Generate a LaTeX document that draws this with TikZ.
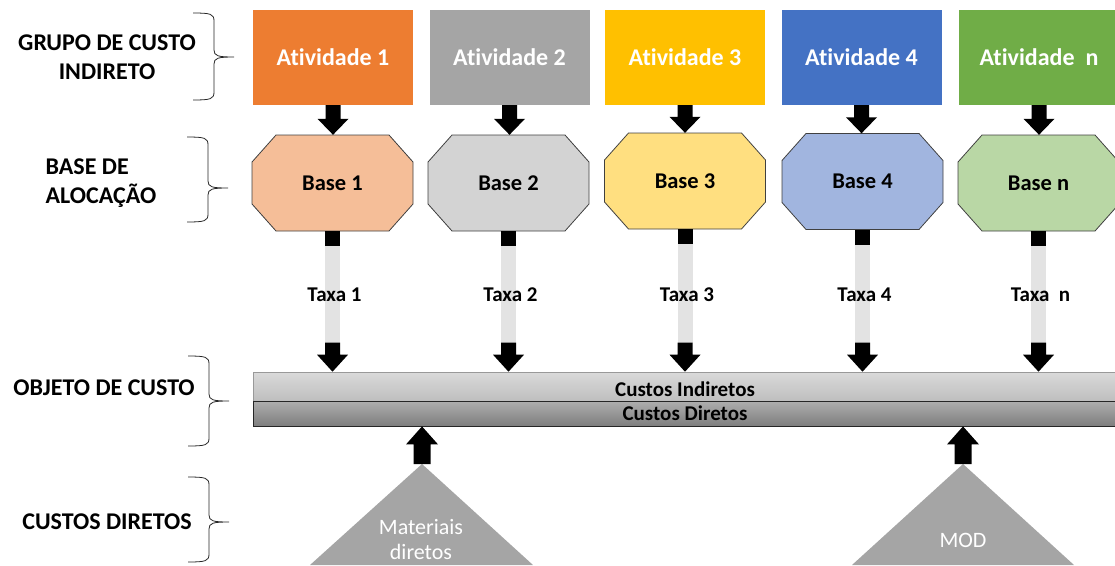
\documentclass[tikz,border=0pt]{standalone}
\usepackage{fontspec}
\setmainfont{Carlito}[Ligatures={NoCommon}]
\usetikzlibrary{calc}

\definecolor{actA}{HTML}{ED7D31}
\definecolor{actB}{HTML}{A5A5A5}
\definecolor{actC}{HTML}{FFC000}
\definecolor{actD}{HTML}{4472C4}
\definecolor{actE}{HTML}{70AD47}
\definecolor{baseA}{HTML}{F5BE98}
\definecolor{baseB}{HTML}{D3D3D3}
\definecolor{baseC}{HTML}{FFDF80}
\definecolor{baseD}{HTML}{A1B5DF}
\definecolor{baseE}{HTML}{B9D7A5}
\definecolor{shaftgray}{HTML}{E3E3E3}
\definecolor{trigray}{HTML}{A5A5A5}
\definecolor{barlightT}{HTML}{DADADA}
\definecolor{barlightB}{HTML}{BEBEBE}
\definecolor{bardarkT}{HTML}{AEAEAE}
\definecolor{bardarkB}{HTML}{7E7E7E}

% block arrow pointing down: start, end, half shaft, half head, head length
\newcommand\blkdn[5]{\fill ($(#1)+(-#3,0)$) -- ($(#1)+(#3,0)$) -- ($(#2)+(#3,-#5)$) -- ($(#2)+(#4,-#5)$) -- (#2) -- ($(#2)+(-#4,-#5)$) -- ($(#2)+(-#3,-#5)$) -- cycle;}
% block arrow pointing up
\newcommand\blkup[5]{\fill ($(#1)+(-#3,0)$) -- ($(#1)+(#3,0)$) -- ($(#2)+(#3,#5)$) -- ($(#2)+(#4,#5)$) -- (#2) -- ($(#2)+(-#4,#5)$) -- ($(#2)+(-#3,#5)$) -- cycle;}
% curly brace: left x, top, tip y, bottom
\newcommand\curly[4]{\draw[bracestyle] (#1,#2) .. controls ({#1+18},#2) and ({#1+21},{#2+1}) .. ({#1+21},{#2+8}) -- ({#1+21},{#3-7}) .. controls ({#1+21},{#3-1}) and ({#1+25},#3) .. ({#1+41},#3) ({#1+41},#3) .. controls ({#1+25},#3) and ({#1+21},{#3+1}) .. ({#1+21},{#3+7}) -- ({#1+21},{#4-8}) .. controls ({#1+21},{#4-1}) and ({#1+18},#4) .. (#1,#4);}

\begin{document}
\begin{tikzpicture}[x=1pt,y=-1pt,
  act/.style={rectangle, minimum width=160pt, minimum height=95pt, inner sep=0pt,
    text=white, font=\bfseries\fontsize{24}{28}\selectfont},
  basebox/.style={rectangle, minimum width=161pt, minimum height=96pt, inner sep=0pt,
    font=\bfseries\fontsize{22.5}{26}\selectfont},
  octo/.style={draw=black!75, line width=0.8pt},
  taxlbl/.style={font=\bfseries\fontsize{21}{24}\selectfont, inner sep=0pt},
  side/.style={font=\bfseries\fontsize{24}{29}\selectfont, inner sep=0pt},
  bartext/.style={font=\bfseries\fontsize{21}{23}\selectfont, inner sep=0pt},
  trilbl/.style={text=white, font=\fontsize{22}{25}\selectfont, align=center, inner sep=0pt},
  bracestyle/.style={draw=black!85, line width=0.8pt}]
\useasboundingbox (0,0) rectangle (1115,565);
\clip (0,0) rectangle (1115,565);

% side labels and braces
\node[side, align=center] (lgrupo) at (107,57) {GRUPO DE CUSTO\\INDIRETO};
\node[side, align=left] (lbase) at (101,183) {BASE DE\\ALOCAÇÃO};
\node[side] (lobj) at (104,388) {OBJETO DE CUSTO};
\node[side] (ldir) at (107,522) {CUSTOS DIRETOS};
\curly{193}{13}{57}{100}
\curly{187}{137}{188}{222}
\curly{188}{356}{401}{446}
\curly{188}{477}{522}{562}

% cost object bar
\node[rectangle, minimum width=867pt, minimum height=29pt, inner sep=0pt,
  top color=barlightT, bottom color=barlightB, draw=black!40, line width=0.6pt]
  (ind) at (686.5,386.5) {};
\node[rectangle, minimum width=867pt, minimum height=25pt, inner sep=0pt,
  top color=bardarkT, bottom color=bardarkB, draw=black!85, line width=0.8pt]
  (dir) at (686.5,413.5) {};
\node[bartext] (indt) at (685,389) {Custos Indiretos};
\node[bartext] (dirt) at (685,413) {Custos Diretos};

% activities, allocation bases and rates
\foreach \i/\ax/\bx/\by/\ac/\bc/\ta/\tb/\tc in {
  1/333/332.5/183/actA/baseA/{Atividade 1}/{Base 1}/{Taxa 1},
  2/509.5/508.5/183/actB/baseB/{Atividade 2}/{Base 2}/{Taxa 2},
  3/685/685/181/actC/baseC/{Atividade 3}/{Base 3}/{Taxa 3},
  4/861.5/862.5/181.5/actD/baseD/{Atividade 4}/{Base 4}/{Taxa 4},
  5/1039/1038.5/183/actE/baseE/{Atividade\ \ n}/{Base n}/{Taxa\ \ n}}{
  \node[act, fill=\ac] (a\i) at (\ax,57.5) {\ta};
  \filldraw[octo, fill=\bc] ({\bx-56.5},{\by-48}) -- ({\bx+56.5},{\by-48})
    -- ({\bx+80.5},{\by-21}) -- ({\bx+80.5},{\by+21}) -- ({\bx+56.5},{\by+48})
    -- ({\bx-56.5},{\by+48}) -- ({\bx-80.5},{\by+21}) -- ({\bx-80.5},{\by-21}) -- cycle;
  \node[basebox] (b\i) at (\bx,\by) {\tb};
  % activity to base
  \coordinate (ae\i) at (a\i.south |- b\i.north);
  \blkdn{a\i.south}{ae\i}{7.5}{15.5}{16}
  % base to cost object
  \coordinate (te\i) at (b\i.south |- ind.north);
  \coordinate (ts\i) at ($(te\i)+(0,-29)$);
  \fill[shaftgray] ($(b\i.south)+(-7.5,0)$) rectangle ($(ts\i)+(7.5,0)$);
  \fill ($(b\i.south)+(-7.5,0)$) rectangle ($(b\i.south)+(7.5,15)$);
  \blkdn{ts\i}{te\i}{7.5}{15.5}{17}
  \node[taxlbl] (t\i) at ({\bx+2},295) {\tc};
}

% direct costs
\fill[trigray] (422,464) -- (533,565) -- (310,565) -- cycle;
\fill[trigray] (963,464) -- (1074,565) -- (852,565) -- cycle;
\coordinate (mat) at (422,464);
\coordinate (mod) at (963,464);
\node[trilbl] (matl) at (421,539.5) {Materiais\\diretos};
\node[trilbl] (modl) at (963,540) {MOD};
\coordinate (mate) at (mat |- dir.south);
\coordinate (mode) at (mod |- dir.south);
\blkup{mat}{mate}{8.5}{16}{18}
\blkup{mod}{mode}{8.5}{16}{18}
\end{tikzpicture}
\end{document}
